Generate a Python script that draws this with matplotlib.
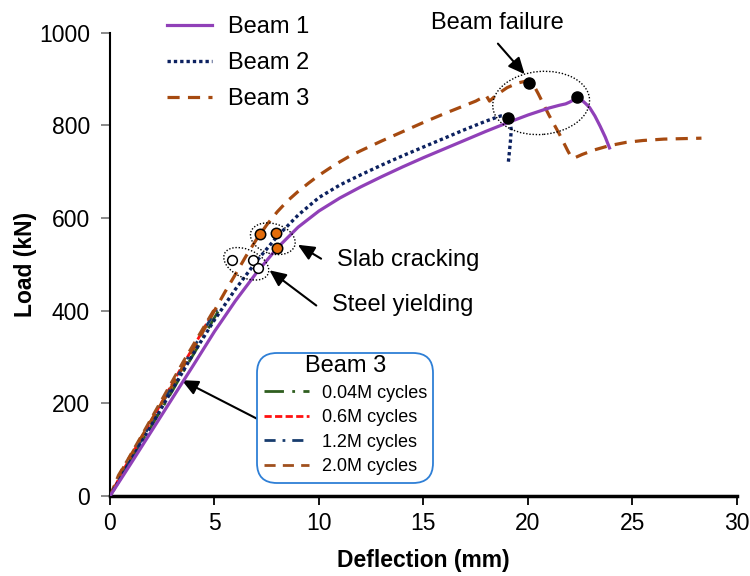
import matplotlib
matplotlib.use("Agg")
import matplotlib.pyplot as plt
from matplotlib.patches import Ellipse, FancyBboxPatch
from matplotlib.transforms import ScaledTranslation

plt.rcParams['font.family'] = ['Liberation Sans', 'DejaVu Sans']

# ---- load-deflection data (deflection in mm, load in kN) ----
beam1_x = [0, 1, 2, 3, 4, 5, 6, 7, 8, 9, 10, 11, 12, 13, 14, 15, 16, 17, 18,
           19, 20, 21, 21.5, 21.8, 22.0, 22.2, 22.35, 22.55, 22.75, 22.95,
           23.2, 23.45, 23.7, 23.9]
beam1_y = [0, 70, 141, 212, 283, 355, 421, 481, 535, 580, 615, 643, 667, 689,
           710, 730, 749, 768, 787, 805, 822, 837, 843, 846, 850, 855, 861,
           855, 847, 838, 820, 798, 774, 751]

beam2_x = [0, 1, 2, 3, 4, 5, 6, 7, 8, 9, 10, 11, 12, 13, 14, 15, 16, 17, 18,
           18.5, 18.7, 18.85, 19.03, 19.15, 19.2, 19.15, 19.05]
beam2_y = [0, 77, 154, 231, 308, 380, 446, 506, 560, 606, 644, 671, 693, 714,
           734, 753, 772, 791, 809, 817, 820, 819, 815, 805, 790, 760, 716]

beam3_x = [0, 0.3, 0.6, 1.0, 2.0, 3.0, 4.0, 4.5, 5.0, 5.5, 6.0, 6.5, 7.0, 7.5,
           8.0, 8.5, 9.0, 9.5, 10.0, 10.5, 11.0, 11.5, 12.0, 13.0, 14.0, 15.0,
           16.0, 17.0, 17.5, 18.0, 18.16, 18.48, 19.0, 19.5, 19.9, 20.1, 20.3,
           20.5, 21.0, 21.5, 21.9, 22.05, 22.2, 22.6, 23.2, 23.9, 24.7, 25.5,
           26.5, 28.3]
beam3_y = [0, 28, 58, 88, 165, 240, 318, 359, 400, 440, 478, 517, 553, 585,
           613, 637, 657, 675, 692, 707, 721, 734, 745, 766, 786, 806, 825,
           843, 852, 864, 852, 865, 881, 891, 895, 895, 884, 867, 822, 781,
           745, 733, 729, 737, 747, 756, 763, 767, 770, 772]

# Beam 3 fatigue-stage static loadings
cyc004_x = [0, 0.5, 1.0, 1.5, 2.0, 2.5, 3.0, 3.5, 4.0, 4.5, 5.0, 5.3]
cyc004_y = [0, 40, 78, 116, 152, 190, 228, 268, 306, 345, 385, 408]
cyc06_x = [0, 0.5, 1.0, 1.5, 2.0, 2.5, 3.0, 3.5, 4.0, 4.5, 5.0]
cyc06_y = [0, 44, 86, 126, 165, 204, 244, 284, 322, 362, 402]
cyc12_x = [0, 0.5, 1.0, 1.5, 2.0, 2.5, 3.0, 3.5, 4.0, 4.5, 5.0, 5.3]
cyc12_y = [0, 40, 80, 120, 160, 200, 240, 280, 320, 358, 396, 414]
cyc20_x = [0, 0.4, 0.8, 1.5, 2.0, 2.5, 3.0, 3.5, 4.0, 4.5, 5.0]
cyc20_y = [0, 45, 75, 130, 170, 210, 250, 290, 328, 366, 404]

# ---- marked events ----
fail_x = [20.07, 22.35, 19.03]
fail_y = [892, 861, 815]
crack_x = [7.16, 7.95, 7.98]
crack_y = [566, 568, 535]
yield_x = [5.85, 6.83, 7.09]
yield_y = [510, 510, 492]

series_labels = ['Beam 1', 'Beam 2', 'Beam 3']
cycle_labels = ['0.04M cycles', '0.6M cycles', '1.2M cycles', '2.0M cycles']

PURPLE = '#9040b8'
NAVY = '#0c2160'
BROWN = '#a64a10'

fig = plt.figure(figsize=(7.5, 5.76), dpi=100)
ax = fig.add_axes([110 / 750, 1 - 496 / 576, 627 / 750, (496 - 32.5) / 576])

# cycle curves (underneath)
c1, = ax.plot(cyc004_x, cyc004_y, color='#2f5e1f', lw=2.0,
              linestyle=(0, (7, 3, 1, 3)), zorder=2)
c2, = ax.plot(cyc06_x, cyc06_y, color='#ff1010', lw=2.0,
              linestyle=(0, (2.6, 1.2)), zorder=2)
c3, = ax.plot(cyc12_x, cyc12_y, color='#173c6e', lw=2.0,
              linestyle=(0, (4, 2.5, 1, 2.5)), zorder=2)
c4, = ax.plot(cyc20_x, cyc20_y, color='#a0501e', lw=2.0,
              linestyle=(0, (4, 2.6)), zorder=2)

l3, = ax.plot(beam3_x, beam3_y, color=BROWN, lw=2.3,
              linestyle=(0, (3.8, 2.6)), zorder=3)
l2, = ax.plot(beam2_x, beam2_y, color=NAVY, lw=2.4,
              linestyle=(0, (1, 0.9)), zorder=4)
l1, = ax.plot(beam1_x, beam1_y, color=PURPLE, lw=2.3, zorder=5)

ax.plot(fail_x, fail_y, 'o', ms=8, color='black', zorder=7)
ax.plot(crack_x, crack_y, 'o', ms=7.5, mfc='#e46c0a', mec='black', mew=1.1,
        zorder=7)
ax.plot(yield_x, yield_y, 'o', ms=7, mfc='white', mec='black', mew=1.1,
        zorder=7)


def ring(x, y, w_px, h_px, angle):
    tr = fig.dpi_scale_trans + ScaledTranslation(x, y, ax.transData)
    e = Ellipse((0, 0), w_px / 100, h_px / 100, angle=angle, transform=tr,
                fill=False, ec='black', lw=1.0, linestyle=(0, (1, 1.3)),
                zorder=6)
    ax.add_patch(e)


ring(20.63, 848, 97, 63, 5)
ring(7.79, 555, 46, 30, -17)
ring(6.52, 501, 48, 28, -25)

arrow = dict(arrowstyle='-|>,head_length=0.55,head_width=0.25', color='black',
             lw=1.5, shrinkA=0, shrinkB=0, mutation_scale=18)
ax.annotate('', xy=(19.84, 910), xytext=(18.56, 976), arrowprops=arrow)
ax.annotate('', xy=(8.99, 542), xytext=(10.1, 512), arrowprops=arrow)
ax.annotate('', xy=(7.63, 487), xytext=(9.87, 411), arrowprops=arrow)
ax.annotate('', xy=(3.43, 250), xytext=(7.02, 167), arrowprops=arrow)

ax.text(18.55, 1020, 'Beam failure', ha='center', va='center', fontsize=17)
ax.text(10.85, 510, 'Slab cracking', ha='left', va='center', fontsize=17)
ax.text(10.64, 413, 'Steel yielding', ha='left', va='center', fontsize=17)

ax.set_xlim(0, 30)
ax.set_ylim(0, 1000)
ax.set_xticks(range(0, 31, 5))
ax.set_yticks(range(0, 1001, 200))
for s in ('top', 'right'):
    ax.spines[s].set_visible(False)
ax.spines['left'].set_linewidth(1.5)
ax.spines['bottom'].set_linewidth(2.5)
ax.tick_params(axis='y', direction='out', length=6.5, width=1.3,
               color='#808080', labelsize=16.5, pad=8)
ax.tick_params(axis='x', direction='out', length=6.5, width=1.3,
               color='black', labelsize=16.5, pad=5)
ax.set_xlabel('Deflection (mm)', fontsize=16.5, fontweight='bold', labelpad=10)
ax.set_ylabel('Load (kN)', fontsize=16.5, fontweight='bold', labelpad=1)

fig.legend([l1, l2, l3], series_labels, loc='upper left',
           bbox_to_anchor=(167 / 750, 1 - 16 / 576), frameon=False,
           fontsize=17, handlelength=1.9, handletextpad=0.68,
           labelspacing=0.6, borderpad=0, borderaxespad=0)

box = FancyBboxPatch((2.57, 0.93), 1.76, 1.30,
                     boxstyle='round,pad=0,rounding_size=0.2',
                     transform=fig.dpi_scale_trans, fc='white', ec='#2e7fd6',
                     lw=1.3, zorder=1)
fig.add_artist(box)
leg2 = fig.legend([c1, c2, c3, c4], cycle_labels, title='Beam 3',
                  loc='upper left', bbox_to_anchor=(264 / 750, 1 - 355 / 576),
                  frameon=False, fontsize=13, title_fontsize=17,
                  handlelength=2.5, handletextpad=0.72, labelspacing=0.42,
                  borderpad=0, borderaxespad=0)
leg2.set_zorder(2)

fig.savefig('out.png', dpi=100)
